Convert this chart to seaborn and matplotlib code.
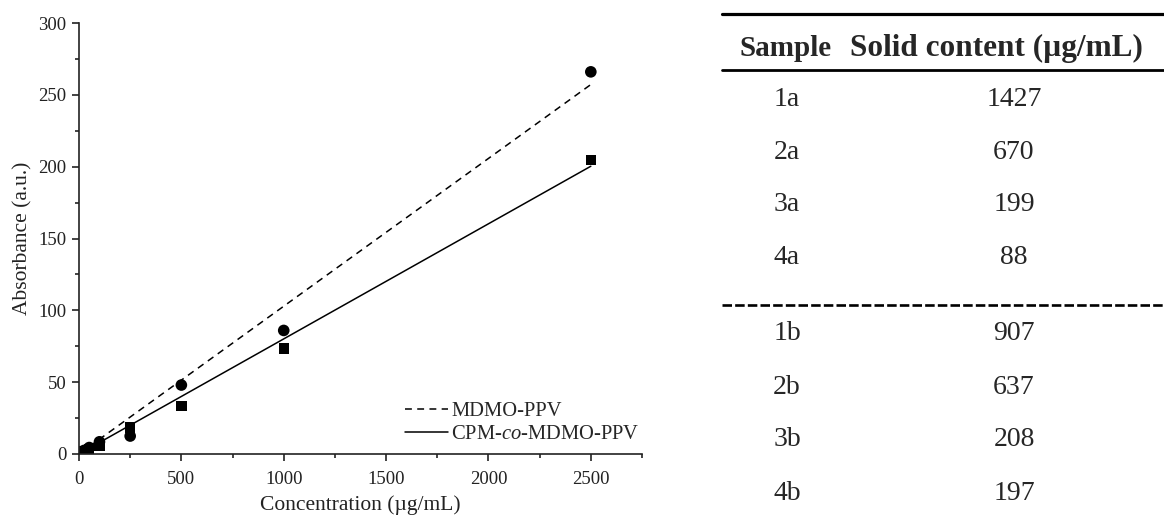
import numpy as np
import pandas as pd
import matplotlib
matplotlib.use("Agg")
import matplotlib.pyplot as plt
import seaborn as sns
from matplotlib.lines import Line2D
from matplotlib.ticker import MultipleLocator

# ---- data ----
concentration = [10, 25, 50, 100, 250, 500, 1000, 2500]
abs_mdmo = [1, 2.5, 4.5, 8.5, 12.5, 48, 86, 266]
abs_cpm = [1, 2, 3.5, 6, 18.5, 33.5, 73.5, 204.5]
series_names = ["MDMO-PPV", "CPM-$\\mathit{co}$-MDMO-PPV"]

x_ticks = [0, 500, 1000, 1500, 2000, 2500]
y_ticks = [0, 50, 100, 150, 200, 250, 300]

table_header = ["Sample", "Solid content (µg/mL)"]
samples_a = ["1a", "2a", "3a", "4a"]
solid_a = ["1427", "670", "199", "88"]
samples_b = ["1b", "2b", "3b", "4b"]
solid_b = ["907", "637", "208", "197"]

# ---- style ----
sns.set_theme(style="ticks")
plt.rcParams["font.family"] = ["Liberation Serif", "DejaVu Serif"]
plt.rcParams["mathtext.fontset"] = "custom"
plt.rcParams["mathtext.rm"] = "Liberation Serif"
plt.rcParams["mathtext.it"] = "Liberation Serif:italic"

W, H = 1164, 520
fig = plt.figure(figsize=(W / 100, H / 100), dpi=100)
ax = fig.add_axes([79 / W, 1 - 454 / H, (642 - 79) / W, (454 - 23) / H])

df = pd.DataFrame({
    "conc": concentration * 2,
    "abs": abs_mdmo + abs_cpm,
    "series": [series_names[0]] * len(concentration) + [series_names[1]] * len(concentration),
})

sns.scatterplot(data=df[df.series == series_names[0]], x="conc", y="abs", marker="o",
                color="black", s=70, edgecolor="none", ax=ax, legend=False)
sns.scatterplot(data=df[df.series == series_names[1]], x="conc", y="abs", marker="s",
                color="black", s=55, edgecolor="none", ax=ax, legend=False)

# linear fits through origin
xs = np.array(concentration, dtype=float)
fit_rows = []
for name, ys in zip(series_names, [abs_mdmo, abs_cpm]):
    ys = np.array(ys, dtype=float)
    slope = np.sum(xs * ys) / np.sum(xs * xs)
    for xv in [0.0, float(max(concentration))]:
        fit_rows.append({"conc": xv, "abs": slope * xv, "series": name})
fit_df = pd.DataFrame(fit_rows)

DASH = [4.5, 3.5]
sns.lineplot(data=fit_df[fit_df.series == series_names[0]], x="conc", y="abs", color="black",
             lw=1.1, ax=ax, legend=False)
ax.lines[-1].set_dashes(DASH)
sns.lineplot(data=fit_df[fit_df.series == series_names[1]], x="conc", y="abs", color="black",
             lw=1.1, ax=ax, legend=False)

ax.set_xlim(0, 2750)
ax.set_ylim(0, 300)
ax.set_xticks(x_ticks)
ax.set_yticks(y_ticks)
ax.xaxis.set_minor_locator(MultipleLocator(250))
ax.yaxis.set_minor_locator(MultipleLocator(25))
ax.tick_params(which="major", direction="out", length=5, width=1.2, labelsize=13.5, color="#222222",
               labelcolor="#222222", pad=4)
ax.tick_params(axis="x", which="major", pad=7.5)
ax.tick_params(which="minor", direction="out", length=3, width=1.2, color="#222222")
for sp in ["top", "right"]:
    ax.spines[sp].set_visible(False)
for sp in ["left", "bottom"]:
    ax.spines[sp].set_linewidth(1.2)
    ax.spines[sp].set_color("#222222")
ax.set_xlabel("Concentration (µg/mL)", fontsize=15.5, color="#222222", labelpad=5)
ax.set_ylabel("Absorbance (a.u.)", fontsize=15.5, color="#222222", labelpad=4)

handles = [Line2D([], [], color="black", lw=1.1, dashes=DASH),
           Line2D([], [], color="black", lw=1.1)]
ax.legend(handles, series_names, loc="lower right", bbox_to_anchor=(1.011, 0.003), frameon=False,
          fontsize=14.8, handlelength=2.1, handletextpad=0.15, labelspacing=0.2, borderaxespad=0)

# ---- table ----
def fy(y):
    return 1 - y / H

def fx(x):
    return x / W

col1_x, col2_x = 787, 1014
header_x1, header_x2 = 786, 996
rule_x0 = 722

fig.add_artist(Line2D([fx(rule_x0), 1.0], [fy(14), fy(14)], color="black", lw=2.3, transform=fig.transFigure))
fig.add_artist(Line2D([fx(rule_x0), 1.0], [fy(70), fy(70)], color="black", lw=2.0, transform=fig.transFigure))
fig.add_artist(Line2D([fx(rule_x0), 1.0], [fy(305), fy(305)], color="black", lw=1.9,
                      dashes=[3.6, 1.2], transform=fig.transFigure))

fig.text(fx(header_x1), fy(48), table_header[0], ha="center", va="center", fontsize=21, fontweight="bold")
fig.text(fx(header_x2), fy(48), table_header[1], ha="center", va="center", fontsize=22.5, fontweight="bold")

rows_a_y = [99, 152, 205, 258]
rows_b_y = [334, 387, 440, 493]
for s, v, y in zip(samples_a, solid_a, rows_a_y):
    fig.text(fx(col1_x), fy(y), s, ha="center", va="center", fontsize=20)
    fig.text(fx(col2_x), fy(y), v, ha="center", va="center", fontsize=20)
for s, v, y in zip(samples_b, solid_b, rows_b_y):
    fig.text(fx(col1_x), fy(y), s, ha="center", va="center", fontsize=20)
    fig.text(fx(col2_x), fy(y), v, ha="center", va="center", fontsize=20)

fig.savefig("out.png", dpi=100)
